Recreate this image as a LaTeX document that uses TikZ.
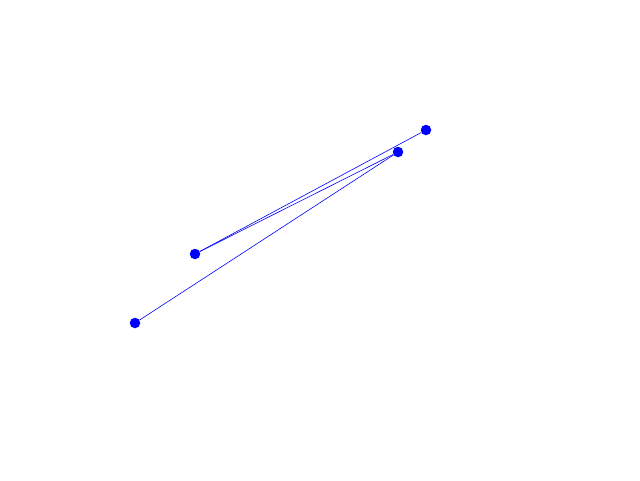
\documentclass[tikz,border=0pt]{standalone}
\usepackage{tikz}
\usetikzlibrary{arrows,calc,positioning}
\tikzset{
    dot/.style={
           circle,
           fill=blue,
           minimum size=10.5pt,
           inner sep=0pt},
    lin/.style={
           blue,
           line width=0.6pt}
}
\begin{document}
\begin{tikzpicture}[x=1pt,y=-1pt]
          \useasboundingbox[fill=white] (0,0) rectangle (640,480);
          \node[dot](pa) at (426,130) {};
          \node[dot](pb) at (398,152) {};
          \node[dot](pc) at (195,254) {};
          \node[dot](pd) at (135,323) {};
          \draw[lin] (pc) -- (pa);
          \draw[lin] (pc) -- (pb);
          \draw[lin] (pd) -- (pb);
\end{tikzpicture}
\end{document}
